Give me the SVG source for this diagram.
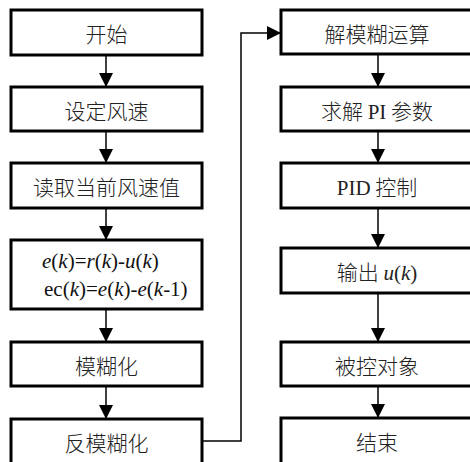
<svg xmlns="http://www.w3.org/2000/svg" width="470" height="462" viewBox="0 0 470 462">
<style>
.box{fill:#fff;stroke:#000;stroke-width:3}
.lbl{font-family:"Noto Sans CJK SC","Liberation Sans",sans-serif;font-weight:300;font-size:21px;text-anchor:middle;fill:#222}
.lat{font-family:"Liberation Serif",serif;font-weight:400}
.it{font-family:"Liberation Serif",serif;font-style:italic;font-weight:400}
.f{font-family:"Liberation Serif",serif;font-size:21px;fill:#111}
.c{fill:none;stroke:#000;stroke-width:1.5}
</style>
<defs>
<marker id="ah" markerUnits="userSpaceOnUse" markerWidth="14" markerHeight="14" viewBox="0 0 14 14" refX="14" refY="7" orient="auto">
<path d="M0,0 L14,7 L0,14 Z" fill="#000"/>
</marker>
</defs>
<rect width="470" height="462" fill="#fff"/>
<g id="connectors">
<line class="c" x1="106" y1="55" x2="106" y2="87" marker-end="url(#ah)"/>
<line class="c" x1="106" y1="131" x2="106" y2="163" marker-end="url(#ah)"/>
<line class="c" x1="106" y1="208" x2="106" y2="240" marker-end="url(#ah)"/>
<line class="c" x1="106" y1="309" x2="106" y2="342" marker-end="url(#ah)"/>
<line class="c" x1="106" y1="386" x2="106" y2="419" marker-end="url(#ah)"/>
<polyline class="c" points="202,441 241,441 241,33 281,33" marker-end="url(#ah)"/>
<line class="c" x1="378" y1="54" x2="378" y2="87" marker-end="url(#ah)"/>
<line class="c" x1="378" y1="131" x2="378" y2="163" marker-end="url(#ah)"/>
<line class="c" x1="378" y1="208" x2="378" y2="248" marker-end="url(#ah)"/>
<line class="c" x1="378" y1="293" x2="378" y2="342" marker-end="url(#ah)"/>
<line class="c" x1="378" y1="386" x2="378" y2="418" marker-end="url(#ah)"/>
</g>
<g id="start"><rect class="box" x="11" y="10" width="191" height="45"/><text class="lbl" x="106.5" y="42">开始</text></g>
<g id="set-speed"><rect class="box" x="11" y="87" width="191" height="44"/><text class="lbl" x="106.5" y="119">设定风速</text></g>
<g id="read-speed"><rect class="box" x="11" y="163" width="191" height="45"/><text class="lbl" x="106.5" y="195">读取当前风速值</text></g>
<g id="error-calc"><rect class="box" x="11" y="240" width="191" height="69"/>
<text class="f" x="42" y="268"><tspan class="it">e</tspan>(<tspan class="it">k</tspan>)=<tspan class="it">r</tspan>(<tspan class="it">k</tspan>)-<tspan class="it">u</tspan>(<tspan class="it">k</tspan>)</text>
<text class="f" x="44" y="296">ec(<tspan class="it">k</tspan>)=<tspan class="it">e</tspan>(<tspan class="it">k</tspan>)-<tspan class="it">e</tspan>(<tspan class="it">k</tspan>-1)</text>
</g>
<g id="fuzzify"><rect class="box" x="11" y="342" width="191" height="44"/><text class="lbl" x="106.5" y="374">模糊化</text></g>
<g id="defuzz"><rect class="box" x="11" y="419" width="191" height="50"/><text class="lbl" x="106.5" y="451">反模糊化</text></g>
<g id="defuzz-op"><rect class="box" x="281" y="10" width="196" height="44"/><text class="lbl" x="377" y="42">解模糊运算</text></g>
<g id="solve-pi"><rect class="box" x="281" y="87" width="196" height="44"/><text class="lbl" x="377" y="119">求解 <tspan class="lat">PI</tspan> 参数</text></g>
<g id="pid"><rect class="box" x="281" y="163" width="196" height="45"/><text class="lbl" x="377" y="195"><tspan class="lat">PID</tspan> 控制</text></g>
<g id="output"><rect class="box" x="281" y="248" width="196" height="45"/><text class="lbl" x="377" y="280">输出 <tspan class="it">u</tspan><tspan class="lat">(</tspan><tspan class="it">k</tspan><tspan class="lat">)</tspan></text></g>
<g id="plant"><rect class="box" x="281" y="342" width="196" height="44"/><text class="lbl" x="377" y="374">被控对象</text></g>
<g id="end"><rect class="box" x="281" y="418" width="196" height="50"/><text class="lbl" x="377" y="450">结束</text></g>
</svg>
